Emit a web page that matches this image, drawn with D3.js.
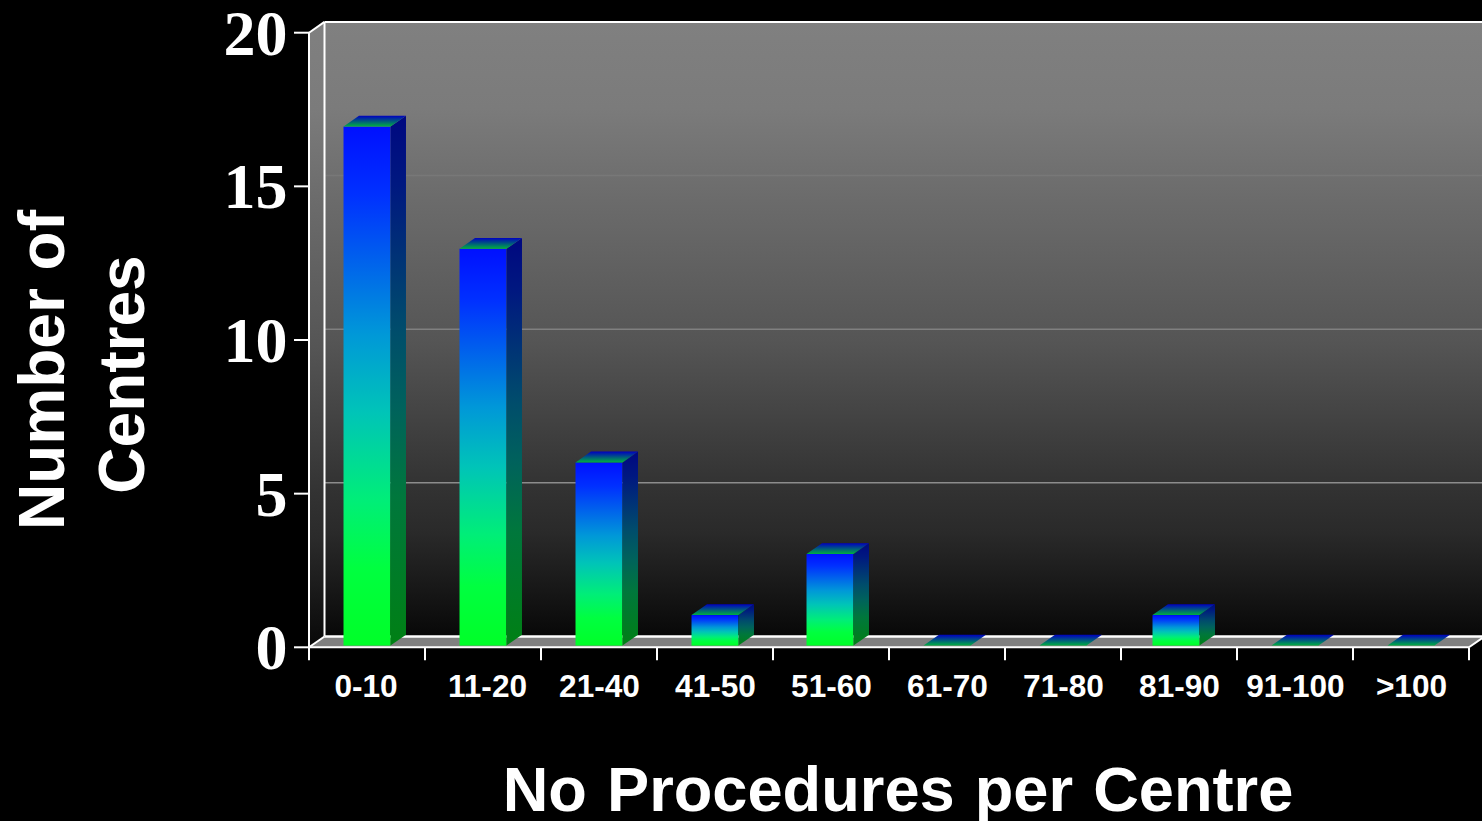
<!DOCTYPE html>
<html><head><meta charset="utf-8">
<script src="https://cdn.jsdelivr.net/npm/d3@7"></script>
<style>html,body{margin:0;background:#000;overflow:hidden}svg{display:block}</style>
</head><body><svg id="c" width="1482" height="821"></svg>
<script>
const categories=["0-10","11-20","21-40","41-50","51-60","61-70","71-80","81-90","91-100",">100"];
const centres=[17,13,6,1,3,0,0,1,0,0];
const yTicks=[0,5,10,15,20];
const xTitle="No Procedures per Centre";
const yTitleLines=["Number of","Centres"];

const W=1482,H=821,dx=15.5,dy=-10.8;
const svg=d3.select("#c");
const x=d3.scaleBand().domain(categories).range([309,1469]).paddingInner(.595).paddingOuter(.2975);
const y=d3.scaleLinear().domain([0,20]).range([647.3,32.7]);
const yBar=d3.scaleLinear().domain([0,20]).range([645.6,35]);
const step=x.step(), x0=x.range()[0], x1=x.range()[1];
const defs=svg.append("defs");
function grad(id,stops){const g=defs.append("linearGradient").attr("id",id).attr("x1",0).attr("y1",0).attr("x2",0).attr("y2",1);
  stops.forEach(s=>g.append("stop").attr("offset",s[0]).attr("stop-color",s[1]));}
grad("wall",[[0,"#808080"],[.14,"#7b7b7b"],[.28,"#6c6c6c"],[.52,"#555555"],[.75,"#333333"],[.83,"#2a2a2a"],[1,"#080808"]]);
grad("front",[[0,"#0010ff"],[.13,"#0030ff"],[.4,"#0098d8"],[.55,"#00c4b8"],[.72,"#00ee78"],[.85,"#00ff40"],[1,"#00ff28"]]);
grad("side",[[0,"#000880"],[.13,"#001880"],[.4,"#004c6c"],[.55,"#00625c"],[.72,"#00773c"],[1,"#008014"]]);
grad("top",[[0,"#0000c0"],[1,"#00b040"]]);
const pts=a=>a.map(p=>p.join(",")).join(" ");
// walls
svg.append("polygon").attr("points",pts([[x0,y(0)],[x0+dx,y(0)+dy],[x0+dx,y(20)+dy],[x0,y(20)]])).attr("fill","url(#wall)");
svg.append("polygon").attr("points",pts([[x0+dx,y(0)+dy],[W+10,y(0)+dy],[W+10,y(20)+dy],[x0+dx,y(20)+dy]])).attr("fill","url(#wall)");
// floor
svg.append("polygon").attr("points",pts([[x0,y(0)],[x0+dx,y(0)+dy],[x1+dx,y(0)+dy],[x1,y(0)]])).attr("fill","#808080");
// grid
const gridCol={5:"#8c8c8c",10:"#808080",15:"#787878"};
svg.selectAll(".g").data(yTicks.filter(t=>t>0&&t<20)).join("line").attr("x1",x0+dx).attr("x2",W)
 .attr("y1",d=>y(d)+dy).attr("y2",d=>y(d)+dy).attr("stroke",d=>gridCol[d]).attr("stroke-width",1.5);
// frame lines
const white=(a,b,w=2)=>svg.append("line").attr("x1",a[0]).attr("y1",a[1]).attr("x2",b[0]).attr("y2",b[1]).attr("stroke","#fff").attr("stroke-width",w);
white([x0+dx,y(20)+dy],[W,y(20)+dy]);
white([x0+dx,y(20)+dy],[x0+dx,y(0)+dy]);
white([x0+dx,y(0)+dy],[W,y(0)+dy],2.5);
white([x0,y(20)],[x0+dx,y(20)+dy]);
white([x0,y(0)],[x0+dx,y(0)+dy]);
white([x1,y(0)],[x1+dx,y(0)+dy]);
// bars (the source drew the 51-60 and 81-90 bars slightly left of their slots)
const bw=x.bandwidth();
const nudge=c=>c==="51-60"?-1:c==="81-90"?-3:0;
svg.selectAll(".bar").data(categories.map((c,i)=>({c,v:centres[i]}))).join("g").each(function(d){
  const g=d3.select(this),l=x(d.c)+(d.v>0?nudge(d.c):0),t=yBar(d.v),b=yBar(0);
  if(d.v>0){
   g.append("rect").attr("x",l).attr("y",t).attr("width",bw).attr("height",b-t).attr("fill","url(#front)");
   g.append("polygon").attr("points",pts([[l+bw,t],[l+bw+dx,t+dy],[l+bw+dx,b+dy],[l+bw,b]])).attr("fill","url(#side)");
  }
  g.append("polygon").attr("points",pts([[l,t],[l+dx,t+dy],[l+bw+dx,t+dy],[l+bw,t]])).attr("fill","url(#top)");
});
// axes
white([x0,y(0)],[x1,y(0)],2);
white([x0,y(20)],[x0,y(0)],2);
yTicks.forEach(t=>white([x0-15,y(t)],[x0,y(t)],2));
d3.range(categories.length+1).forEach(i=>white([x0+i*step,y(0)],[x0+i*step,y(0)+13],2));
const labelNudge=c=>c==="0-10"?-1.5:c==="11-20"?4:0;
svg.append("g").selectAll("text").data(categories).join("text")
 .attr("x",d=>x(d)+bw/2+.5+labelNudge(d)).attr("y",697).attr("text-anchor","middle")
 .attr("font-family","Liberation Sans").attr("font-weight","bold").attr("font-size",31.6).attr("fill","#fff").text(d=>d);
svg.append("g").selectAll("text").data(yTicks).join("text")
 .attr("x",287.5).attr("y",d=>y(d)+22).attr("text-anchor","end")
 .attr("font-family","Liberation Serif").attr("font-weight","bold").attr("font-size",64).attr("fill","#fff").text(d=>d);
svg.append("text").attr("x",898).attr("y",811).attr("text-anchor","middle").attr("word-spacing",2.5)
 .attr("font-family","Liberation Sans").attr("font-weight","bold").attr("font-size",63.2).attr("fill","#fff").text(xTitle);
yTitleLines.forEach((s,i)=>svg.append("text").attr("transform",`translate(${63.5+i*80.5},${370+i*4.5}) rotate(-90)`).attr("text-anchor","middle")
 .attr("font-family","Liberation Sans").attr("font-weight","bold").attr("font-size",64).attr("fill","#fff").text(s));
</script></body></html>
